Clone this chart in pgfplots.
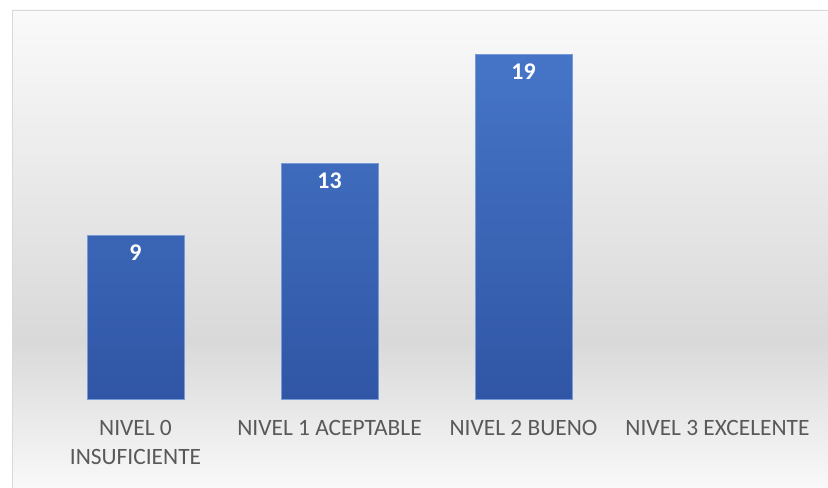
\documentclass[border=0pt]{standalone}
\usepackage{pgfplots}
\pgfplotsset{compat=1.18}
\usepackage{fontspec}
\setmainfont{Carlito}
\definecolor{bgtop}{RGB}{250,250,250}
\definecolor{bgmid}{RGB}{217,217,217}
\definecolor{bgbot}{RGB}{249,249,249}
\definecolor{frame}{RGB}{217,217,217}
\definecolor{bartop}{RGB}{70,117,199}
\definecolor{barbot}{RGB}{48,86,165}
\definecolor{baredge}{RGB}{120,155,215}
\definecolor{lbl}{RGB}{89,89,89}
\begin{document}
\begin{tikzpicture}[x=1bp,y=1bp]
\clip (0,0) rectangle (828,488);
\shade[bottom color=bgbot, top color=bgmid] (12,-2) rectangle (840,148);
\shade[bottom color=bgmid, top color=bgtop] (12,148) rectangle (840,478);
\draw[frame, line width=0.8bp] (12,-5) -- (12,478) -- (840,478);
\begin{axis}[
  at={(38.5bp,89bp)}, anchor=south west,
  scale only axis, width=776bp, height=363bp,
  xmin=-0.5, xmax=3.5, ymin=0, ymax=20,
  axis line style={draw=none},
  major tick length=0pt,
  ytick=\empty,
  xtick={0,1,2,3},
  xticklabels={{NIVEL 0\\INSUFICIENTE},{NIVEL 1 ACEPTABLE},{NIVEL 2 BUENO},{NIVEL 3 EXCELENTE}},
  xticklabel style={anchor=north, inner sep=0pt, yshift=-21bp, align=center, text=lbl, font=\fontsize{23.5}{29}\selectfont},
  /pgf/number format/assume math mode=true,
  ybar, bar width=97bp,
  nodes near coords,
  every node near coord/.append style={anchor=north, inner sep=0pt, yshift=-9bp, text=white, font=\fontsize{24}{29}\selectfont\bfseries},
  clip=false,
]
\addplot[ybar, bar shift=0pt, top color=bartop, bottom color=barbot, draw=baredge, line width=0.6bp]
  coordinates {(0,9) (1,13) (2,19)};
\end{axis}
\end{tikzpicture}
\end{document}
